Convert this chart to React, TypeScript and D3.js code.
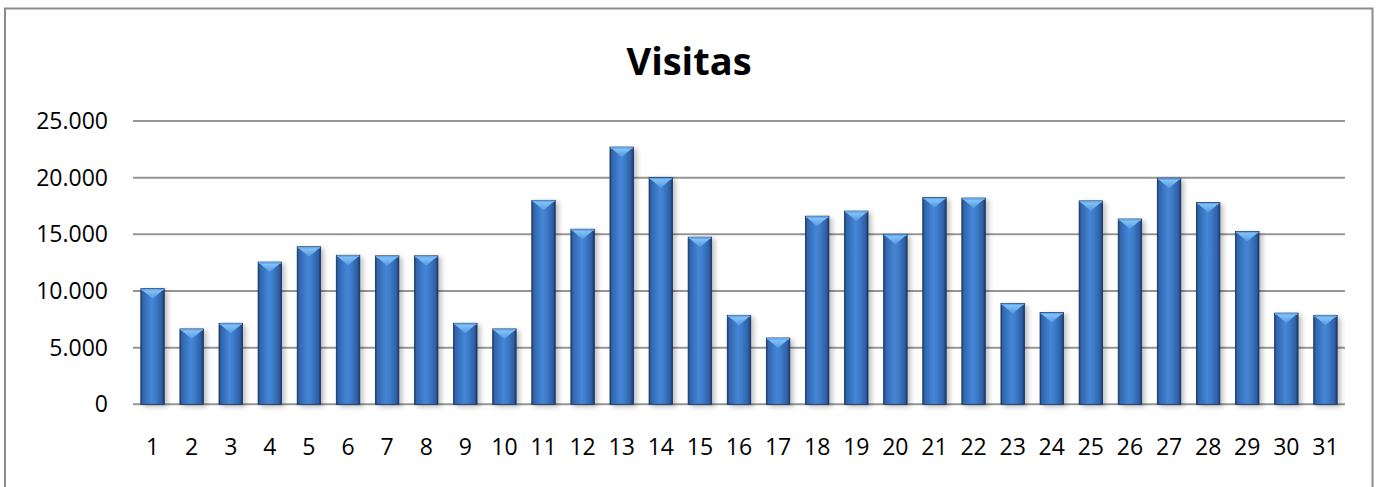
import { useRef, useEffect } from "react";
import * as d3 from "d3";

// ── Data ──────────────────────────────────────────────────────────────────────

const DAYS = d3.range(1, 32).map(String);

const VISITAS = [
  10200, 6650, 7150, 12550, 13900, 13150, 13100, 13100, 7150, 6650,
  18000, 15450, 22700, 20000, 14750, 7850, 5850, 16600, 17050, 15000,
  18250, 18200, 8900, 8100, 17950, 16350, 19950, 17800, 15250, 8050, 7850,
];

const Y_TICKS = [0, 5000, 10000, 15000, 20000, 25000];

// ── Layout ────────────────────────────────────────────────────────────────────

const WIDTH = 1383;
const HEIGHT = 487;
const PLOT = { left: 133, right: 1345, top: 121, bottom: 404.3 };
const FONT = "'Open Sans', Calibri, sans-serif";

const fmt = (v: number) => (v === 0 ? "0" : d3.format(",")(v).replace(/,/g, "."));

function render(svg: SVGSVGElement) {
  const root = d3.select(svg);
  root.selectAll("*").remove();

  const defs = root.append("defs");

  const body = defs
    .append("linearGradient")
    .attr("id", "bar-body")
    .attr("x1", "0%")
    .attr("x2", "100%")
    .attr("y1", "0%")
    .attr("y2", "0%");
  [
    [0, "#1d3d6c"],
    [0.08, "#3065ad"],
    [0.45, "#4486d6"],
    [0.6, "#3f7ecb"],
    [0.9, "#2d5ea5"],
    [1, "#19365f"],
  ].forEach(([o, c]) => body.append("stop").attr("offset", o as number).attr("stop-color", c as string));

  const bevel = defs
    .append("linearGradient")
    .attr("id", "bar-bevel")
    .attr("x1", "0%")
    .attr("x2", "0%")
    .attr("y1", "0%")
    .attr("y2", "100%");
  bevel.append("stop").attr("offset", 0).attr("stop-color", "#8ccaf9");
  bevel.append("stop").attr("offset", 1).attr("stop-color", "#5299e3");

  const shadow = defs
    .append("filter")
    .attr("id", "bar-shadow")
    .attr("x", "-30%")
    .attr("y", "-10%")
    .attr("width", "170%")
    .attr("height", "130%");
  shadow
    .append("feDropShadow")
    .attr("dx", 3)
    .attr("dy", 2)
    .attr("stdDeviation", 2.5)
    .attr("flood-color", "#000")
    .attr("flood-opacity", 0.25);

  root.append("rect").attr("width", WIDTH).attr("height", HEIGHT).attr("fill", "#fff");

  // Chart frame (bottom runs past the window)
  root
    .append("rect")
    .attr("x", 5)
    .attr("y", 8.5)
    .attr("width", 1367.5)
    .attr("height", 520)
    .attr("fill", "none")
    .attr("stroke", "#8c8c8c")
    .attr("stroke-width", 2);

  const x = d3
    .scaleBand()
    .domain(DAYS)
    .range([PLOT.left, PLOT.right])
    .paddingInner(0.4)
    .paddingOuter(0.2);

  const y = d3.scaleLinear().domain([0, 25000]).range([PLOT.bottom, PLOT.top]);

  // Grid lines
  root
    .append("g")
    .selectAll("line")
    .data(Y_TICKS)
    .join("line")
    .attr("x1", PLOT.left)
    .attr("x2", PLOT.right)
    .attr("y1", (d) => y(d))
    .attr("y2", (d) => y(d))
    .attr("stroke", "#969696")
    .attr("stroke-width", 2);

  // Y labels
  root
    .append("g")
    .selectAll("text")
    .data(Y_TICKS)
    .join("text")
    .attr("x", 108)
    .attr("y", (d) => y(d))
    .attr("dy", "0.35em")
    .attr("text-anchor", "end")
    .attr("font-family", FONT)
    .attr("font-size", 23)
    .attr("fill", "#000")
    .text((d) => fmt(d));

  // X labels
  root
    .append("g")
    .selectAll("text")
    .data(DAYS)
    .join("text")
    .attr("x", (d) => (x(d) ?? 0) + x.bandwidth() / 2)
    .attr("y", 455)
    .attr("text-anchor", "middle")
    .attr("font-family", FONT)
    .attr("font-size", 23)
    .attr("fill", "#000")
    .text((d) => d);

  // Bars
  const bw = x.bandwidth();
  const bars = root.append("g");
  DAYS.forEach((day, i) => {
    const bx = x(day) ?? 0;
    const by = y(VISITAS[i]);
    const bh = PLOT.bottom - by;
    const g = bars.append("g");

    g.append("rect")
      .attr("x", bx)
      .attr("y", by)
      .attr("width", bw)
      .attr("height", bh)
      .attr("fill", "url(#bar-body)")
      .attr("stroke", "#1a335a")
      .attr("stroke-width", 0.8)
      .attr("filter", "url(#bar-shadow)");

    const depth = Math.min(10, bh / 2);
    g.append("path")
      .attr(
        "d",
        `M${bx + 0.5},${by + 0.5} L${bx + bw - 0.5},${by + 0.5} L${bx + bw / 2},${by + depth} Z`
      )
      .attr("fill", "url(#bar-bevel)");

    g.append("line")
      .attr("x1", bx + 0.5)
      .attr("x2", bx + bw - 0.5)
      .attr("y1", by + 1)
      .attr("y2", by + 1)
      .attr("stroke", "#64aaee")
      .attr("stroke-width", 1.5);
  });

  // Title
  root
    .append("text")
    .attr("x", 689)
    .attr("y", 75)
    .attr("text-anchor", "middle")
    .attr("font-family", FONT)
    .attr("font-weight", 700)
    .attr("font-size", 38)
    .attr("fill", "#000")
    .text("Visitas");
}

export default function App() {
  const svgRef = useRef<SVGSVGElement>(null);

  useEffect(() => {
    if (svgRef.current) render(svgRef.current);
  }, []);

  return (
    <svg
      ref={svgRef}
      width={WIDTH}
      height={HEIGHT}
      viewBox={`0 0 ${WIDTH} ${HEIGHT}`}
      style={{ position: "absolute", left: 0, top: 0, display: "block" }}
    />
  );
}
